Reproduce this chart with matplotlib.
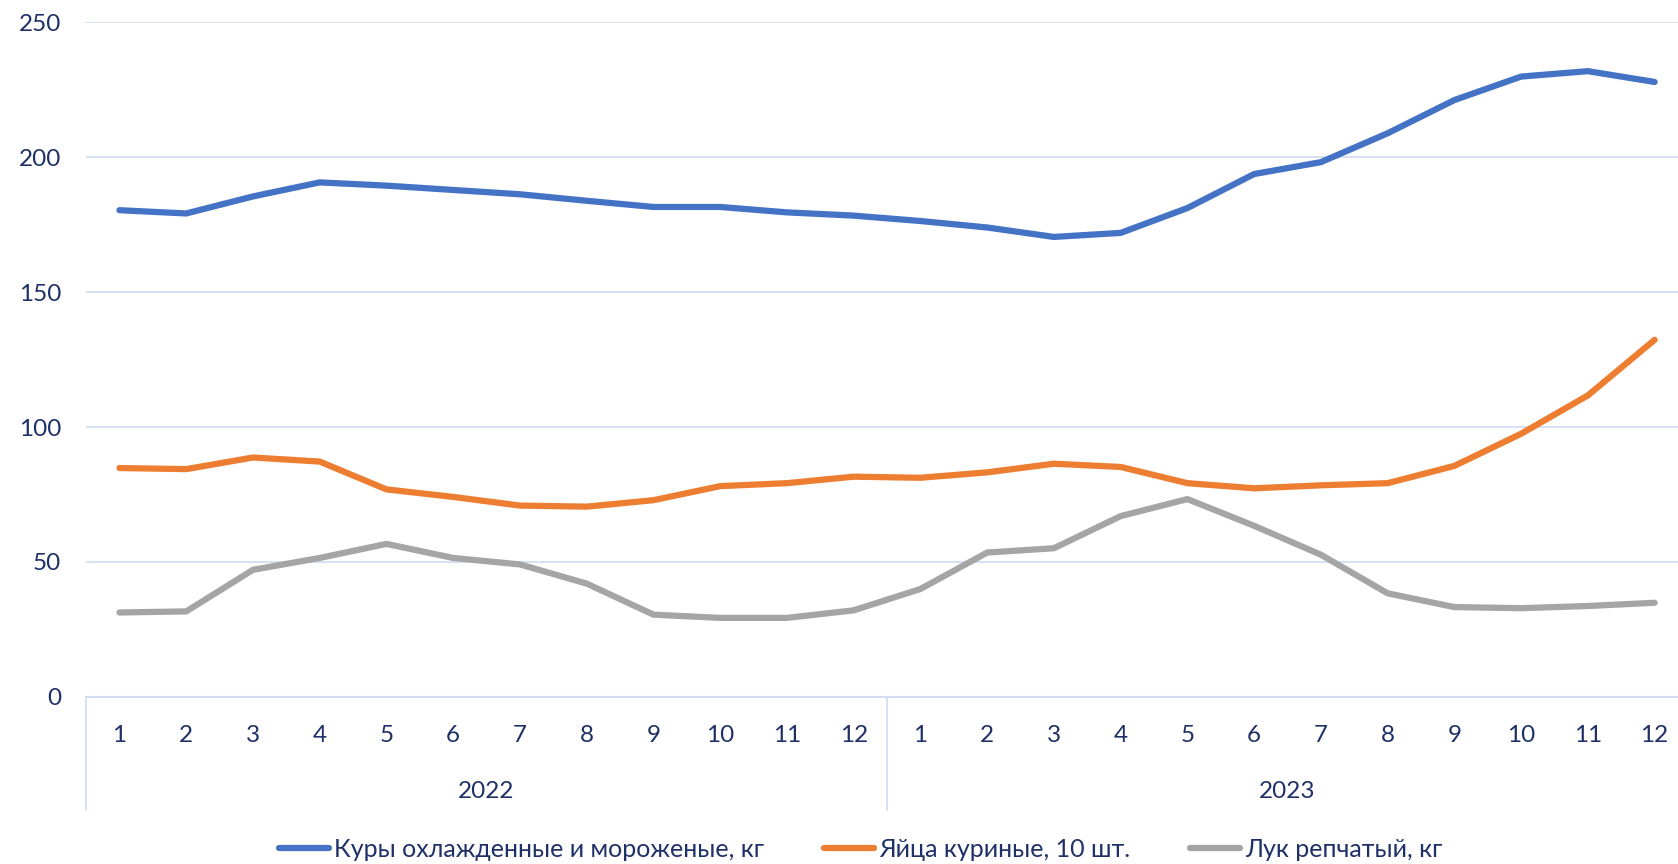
import matplotlib.pyplot as plt
from matplotlib.transforms import blended_transform_factory

months = [str(m) for m in range(1, 13)] * 2
years = ["2022", "2023"]

chicken = [180.3, 179.1, 185.4, 190.6, 189.4, 187.8, 186.2, 183.8, 181.5, 181.5, 179.5, 178.3,
           176.3, 173.9, 170.4, 171.9, 181.1, 193.7, 198.1, 208.8, 221.1, 229.8, 231.8, 227.8]
eggs = [84.8, 84.4, 88.7, 87.2, 76.9, 74.1, 70.9, 70.5, 72.9, 78.1, 79.2, 81.6,
        81.2, 83.2, 86.4, 85.2, 79.2, 77.3, 78.4, 79.2, 85.6, 97.5, 111.7, 132.3]
onion = [31.3, 31.7, 47.1, 51.5, 56.7, 51.5, 49.1, 42.0, 30.5, 29.3, 29.3, 32.1,
         40.0, 53.5, 55.1, 67.0, 73.3, 63.4, 52.7, 38.4, 33.3, 32.9, 33.7, 34.9]

labels = ["Куры охлажденные и мороженые, кг", "Яйца куриные, 10 шт.", "Лук репчатый, кг"]
colors = ["#4472C4", "#ED7D31", "#A5A5A5"]

TEXT = "#1F3068"
GRID = "#D3DEF5"

plt.rcParams["font.family"] = ["Lato", "DejaVu Sans"]

fig = plt.figure(figsize=(16.78, 8.64), dpi=100)
ax = fig.add_axes([0.0513, 0.1933, 0.9487, 0.7812])

x = list(range(len(months)))
for series, lab, col in zip([chicken, eggs, onion], labels, colors):
    ax.plot(x, series, color=col, lw=4.5, label=lab, solid_capstyle="round", solid_joinstyle="round")

ax.set_ylim(0, 250)
ax.set_xlim(-0.5, 23.35)
ax.set_yticks([0, 50, 100, 150, 200, 250])
ax.yaxis.grid(True, color=GRID, lw=1.3)
ax.set_axisbelow(True)
for s in ["top", "right", "left"]:
    ax.spines[s].set_visible(False)
ax.spines["bottom"].set_color(GRID)
ax.spines["bottom"].set_linewidth(1.5)

ax.set_xticks(x)
ax.set_xticklabels(months)
ax.tick_params(axis="x", length=0, pad=20, labelsize=17.5, labelcolor=TEXT)
ax.tick_params(axis="y", length=0, pad=18, labelsize=17.5, labelcolor=TEXT)

# year labels and group separators under the month ticks
trans = blended_transform_factory(ax.transData, ax.transAxes)
for i, yr in enumerate(years):
    ax.text(i * 12 + 5.5, -0.1407, yr, transform=trans, ha="center", va="center",
            fontsize=17.5, color=TEXT)
for sep in [-0.5, 11.5]:
    ax.plot([sep, sep], [0, -0.167], transform=trans, color=GRID, lw=1.3, clip_on=False)

fig.legend(loc="center", bbox_to_anchor=(0.513, 0.017), ncol=3, frameon=False,
           fontsize=18, labelcolor=TEXT, handlelength=2.0, handletextpad=0.2,
           columnspacing=2.4)

fig.savefig("out.png", dpi=100)
